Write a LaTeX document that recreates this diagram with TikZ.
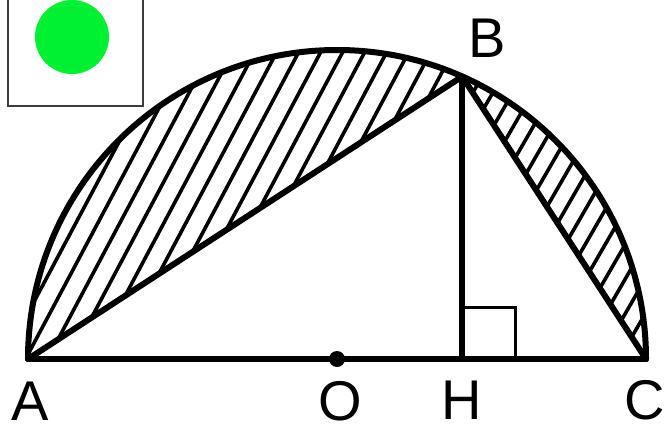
\documentclass[tikz,border=0pt]{standalone}
\usepackage{fontspec}
\setmainfont{Liberation Sans}
\usetikzlibrary{calc}
\definecolor{dotgreen}{RGB}{0,240,50}
\definecolor{boxgray}{RGB}{60,60,60}

\begin{document}
\begin{tikzpicture}[x=1pt,y=1pt]
\tikzset{thick line/.style={line width=6pt,line cap=round,line join=round},
  hatch/.style={line width=3.6pt},
  lbl/.style={font=\fontsize{56}{56}\selectfont,inner sep=0pt}}
\useasboundingbox (0,0) rectangle (668,432);
% points
\coordinate (O) at (337,73);
\coordinate (A) at (28,73);
\coordinate (C) at (646,73);
\coordinate (B) at ($(O)+(66.1:309)$);
\coordinate (H) at ($(O)!(B)!(C)$);
% hatched segments
\begin{scope}
\clip (B) arc[start angle=66.1,end angle=180,radius=309] -- cycle;
\foreach \s in {-300,-278,...,560} \draw[hatch] (\s,40) -- ++(62:420);
\end{scope}
\begin{scope}
\clip (C) arc[start angle=0,end angle=66.1,radius=309] -- cycle;
\foreach \s in {200,220,...,700} \draw[hatch] (\s,40) -- ++(60:420);
\end{scope}
% figure
\draw[thick line] (C) arc[start angle=0,end angle=180,radius=309];
\draw[thick line] (A) -- (C);
\draw[thick line] (A) -- (B) -- (C);
\draw[thick line] (B) -- (H);
\draw[line width=3pt] ($(H)+(0,52)$) -- ++(53,0) -- ++(0,-52);
\fill (O) circle[radius=8];
% labels
\node[lbl] (lA) at (30,31) {A};
\node[lbl] (lO) at (340,31) {O};
\node[lbl] (lH) at (462,32) {H};
\node[lbl] (lC) at (645,32) {C};
\node[lbl] (lB) at (487,394) {B};
% corner box
\draw[boxgray,line width=1.2pt,fill=white] (8,326) rectangle (143,433);
\fill[dotgreen] (72,395) circle[radius=37];
\end{tikzpicture}
\end{document}
